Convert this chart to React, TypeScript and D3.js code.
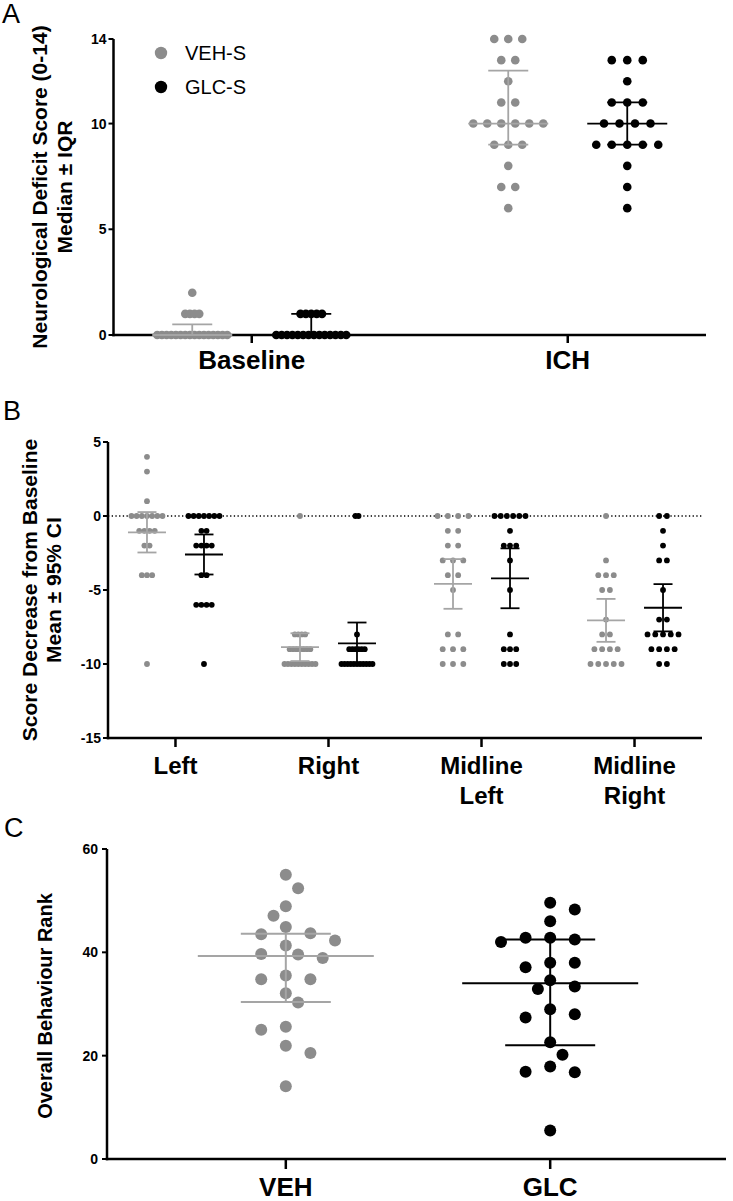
import React from "react";
import * as d3 from "d3";

// ---------------- DATA ----------------
// Panel A
const panelACategories = ["Baseline", "ICH"];
const seriesNames = ["VEH-S", "GLC-S"];
const vehBaseline = [2, 1, 1, 1, 1, 0, 0, 0, 0, 0, 0, 0, 0, 0, 0, 0, 0, 0, 0, 0, 0];
const glcBaseline = [1, 1, 1, 1, 1, 0, 0, 0, 0, 0, 0, 0, 0, 0, 0, 0, 0, 0, 0];
const vehICH = [14, 14, 14, 13, 13, 12, 11, 11, 10, 10, 10, 10, 10, 10, 9, 9, 9, 8, 7, 7, 6];
const glcICH = [13, 13, 13, 12, 11, 11, 11, 10, 10, 10, 10, 9, 9, 9, 9, 9, 8, 7, 6];
const panelATicks = [0, 5, 10, 14];

// Panel B
const panelBCategories = ["Left", "Right", "Midline\nLeft", "Midline\nRight"];
const vehLeft = [4, 3, 1, 0, 0, 0, 0, 0, 0, 0, -1, -1, -1, -1, -2, -2, -4, -4, -4, -10];
const glcLeft = [0, 0, 0, 0, 0, 0, 0, -1, -1, -2, -2, -2, -2, -4, -4, -6, -6, -6, -6, -10];
const vehRight = [0, -8, -8, -8, -8, -9, -9, -9, -9, -9, -9, -9, -10, -10, -10, -10, -10, -10, -10, -10, -10, -10];
const glcRight = [0, 0, -8, -9, -9, -9, -9, -9, -9, -10, -10, -10, -10, -10, -10, -10, -10, -10, -10, -10];
const vehMidLeft = [0, 0, 0, 0, -1, -1, -2, -2, -3, -3, -3, -4, -4, -5, -8, -8, -9, -9, -9, -10, -10, -10];
const glcMidLeft = [0, 0, 0, 0, 0, 0, -1, -2, -2, -2, -3, -5, -8, -9, -9, -9, -10, -10, -10];
const vehMidRight = [0, -3, -4, -4, -4, -5, -5, -7, -8, -8, -9, -9, -9, -9, -10, -10, -10, -10, -10];
const glcMidRight = [0, 0, -1, -2, -3, -3, -5, -7, -7, -8, -8, -8, -8, -8, -9, -9, -9, -9, -10, -10];
const panelBTicks = [5, 0, -5, -10, -15];

// Panel C
const panelCCategories = ["VEH", "GLC"];
const vehRank = [55.0, 52.4, 48.9, 47.1, 44.9, 43.5, 43.7, 42.3, 41.3, 39.6, 38.9, 39.7, 34.8, 34.8, 35.5, 32.1, 30.3, 25.6, 25.0, 21.9, 20.5, 14.1];
const glcRank = [49.6, 48.3, 46.0, 42.5, 42.8, 42.8, 42.0, 38.0, 38.0, 37.1, 34.6, 32.9, 33.4, 27.4, 28.0, 29.0, 22.6, 20.2, 17.9, 16.9, 16.8, 5.5];
const rankMedian = [39.3, 34.0];
const rankQ1 = [30.4, 22.0];
const rankQ3 = [43.6, 42.5];
const panelCTicks = [0, 20, 40, 60];

// ---------------- STYLE ----------------
const FONT = "'Liberation Sans', Arial, Helvetica, sans-serif";
const GRAY = "#8c8c8c";
const GRAY_LINE = "#a5a5a5";
const BLACK = "#000000";

// ---------------- HELPERS ----------------
function prismQuantile(vals: number[], p: number) {
  const s = [...vals].sort((a, b) => a - b);
  const n = s.length;
  let pos = p * (n + 1);
  if (pos < 1) pos = 1;
  if (pos > n) pos = n;
  const lo = Math.floor(pos);
  const frac = pos - lo;
  if (lo >= n) return s[n - 1];
  return s[lo - 1] + frac * (s[lo] - s[lo - 1]);
}

function tCrit(df: number) {
  const z = 1.959964;
  const z3 = z * z * z;
  const z5 = z3 * z * z;
  return z + (z3 + z) / (4 * df) + (5 * z5 + 16 * z3 + 3 * z) / (96 * df * df);
}

function meanCI(vals: number[]) {
  const m = d3.mean(vals) as number;
  const sd = d3.deviation(vals) as number;
  const h = (tCrit(vals.length - 1) * sd) / Math.sqrt(vals.length);
  return { center: m, lo: m - h, hi: m + h };
}

function medianIQR(vals: number[]) {
  return { center: prismQuantile(vals, 0.5), lo: prismQuantile(vals, 0.25), hi: prismQuantile(vals, 0.75) };
}

function rowLayout(values: number[], rowWidth: number, maxSpacing: number) {
  const counts = d3.rollup(values, (v) => v.length, (d) => d);
  const maxCount = d3.max(Array.from(counts.values())) as number;
  const spacing = maxCount > 1 ? Math.min(maxSpacing, rowWidth / (maxCount - 1)) : 0;
  const out: { v: number; dx: number }[] = [];
  for (const [val, n] of counts) {
    for (let i = 0; i < n; i++) out.push({ v: val, dx: (i - (n - 1) / 2) * spacing });
  }
  return out;
}

function swarm(values: number[], y: (v: number) => number, slot: number, minDist: number) {
  const order = values.map((v) => ({ v, y: y(v) })).sort((a, b) => a.y - b.y);
  const placed: { v: number; y: number; dx: number }[] = [];
  let flip = 1;
  for (const p of order) {
    for (let k = 0; k < 30; k++) {
      const cands = k === 0 ? [0] : [flip * k, -flip * k];
      let found: number | null = null;
      for (const c of cands) {
        const x = c * slot;
        if (placed.every((q) => Math.hypot(q.dx - x, q.y - p.y) >= minDist)) {
          found = x;
          break;
        }
      }
      if (found !== null) {
        placed.push({ ...p, dx: found });
        if (found !== 0) flip = -flip;
        break;
      }
    }
  }
  return placed;
}

type Stat = { center: number; lo: number; hi: number };

function Group(props: {
  cx: number;
  dots: { v: number; dx: number }[];
  r: number;
  color: string;
  lineColor: string;
  stat: Stat;
  y: (v: number) => number;
  centerHalf: number;
  capHalf: number;
  sw: number;
}) {
  const { cx, dots, r, color, lineColor, stat, y, centerHalf, capHalf, sw } = props;
  return (
    <g>
      {dots.map((d, i) => (
        <circle key={i} cx={cx + d.dx} cy={y(d.v)} r={r} fill={color} />
      ))}
      <g stroke={lineColor} strokeWidth={sw} fill="none">
        <line x1={cx} x2={cx} y1={y(stat.lo)} y2={y(stat.hi)} />
        <line x1={cx - capHalf} x2={cx + capHalf} y1={y(stat.lo)} y2={y(stat.lo)} />
        <line x1={cx - capHalf} x2={cx + capHalf} y1={y(stat.hi)} y2={y(stat.hi)} />
        <line x1={cx - centerHalf} x2={cx + centerHalf} y1={y(stat.center)} y2={y(stat.center)} />
      </g>
    </g>
  );
}

function YAxis(props: { x: number; y: d3.ScaleLinear<number, number>; ticks: number[]; labelGap: number }) {
  const { x, y, ticks, labelGap } = props;
  const [d0, d1] = y.domain();
  return (
    <g>
      <line x1={x} x2={x} y1={y(d0) + 1.25} y2={y(d1)} stroke={BLACK} strokeWidth={2.5} />
      {ticks.map((t) => (
        <g key={t}>
          <line x1={x - 5} x2={x} y1={y(t)} y2={y(t)} stroke={BLACK} strokeWidth={2} />
          <text x={x - labelGap} y={y(t)} dy="0.36em" textAnchor="end" fontFamily={FONT} fontWeight="bold" fontSize={14}>
            {t}
          </text>
        </g>
      ))}
    </g>
  );
}

function XAxis(props: {
  x0: number;
  x1: number;
  yPos: number;
  xs: d3.ScalePoint<string>;
  tickLen: number;
  labelY: number;
  fontSize: number;
  lineH: number;
}) {
  const { x0, x1, yPos, xs, tickLen, labelY, fontSize, lineH } = props;
  return (
    <g>
      <line x1={x0 - 1.25} x2={x1} y1={yPos} y2={yPos} stroke={BLACK} strokeWidth={2.5} />
      {xs.domain().map((c) => (
        <g key={c}>
          <line x1={xs(c)} x2={xs(c)} y1={yPos} y2={yPos + tickLen} stroke={BLACK} strokeWidth={2.5} />
          <text x={xs(c)} y={labelY} textAnchor="middle" fontFamily={FONT} fontWeight="bold" fontSize={fontSize}>
            {c.split("\n").map((ln, i) => (
              <tspan key={i} x={xs(c)} dy={i === 0 ? 0 : lineH}>
                {ln}
              </tspan>
            ))}
          </text>
        </g>
      ))}
    </g>
  );
}

function YTitle(props: { lines: string[]; xs: number[]; cy: number; size: number }) {
  return (
    <g>
      {props.lines.map((ln, i) => (
        <text
          key={i}
          transform={`translate(${props.xs[i]},${props.cy}) rotate(-90)`}
          textAnchor="middle"
          fontFamily={FONT}
          fontWeight="bold"
          fontSize={props.size}
        >
          {ln}
        </text>
      ))}
    </g>
  );
}

export default function App() {
  // ---- Panel A ----
  const yA = d3.scaleLinear().domain([0, 14]).range([335, 39]);
  const xA = d3.scalePoint<string>().domain(panelACategories).range([113.5, 706]).padding(0.4375);
  const offA = d3.scalePoint<string>().domain(seriesNames).range([-59.5, 59.5]);
  const groupsA = [
    { cat: "Baseline", s: "VEH-S", vals: vehBaseline },
    { cat: "Baseline", s: "GLC-S", vals: glcBaseline },
    { cat: "ICH", s: "VEH-S", vals: vehICH },
    { cat: "ICH", s: "GLC-S", vals: glcICH },
  ];

  // ---- Panel B ----
  const yB = d3.scaleLinear().domain([-15, 5]).range([738, 442]);
  const xB = d3.scalePoint<string>().domain(panelBCategories).range([108, 702]).padding(0.441);
  const offB = d3.scalePoint<string>().domain(seriesNames).range([-28.5, 28.5]);
  const groupsB = [
    { cat: panelBCategories[0], s: "VEH-S", vals: vehLeft },
    { cat: panelBCategories[0], s: "GLC-S", vals: glcLeft },
    { cat: panelBCategories[1], s: "VEH-S", vals: vehRight },
    { cat: panelBCategories[1], s: "GLC-S", vals: glcRight },
    { cat: panelBCategories[2], s: "VEH-S", vals: vehMidLeft },
    { cat: panelBCategories[2], s: "GLC-S", vals: glcMidLeft },
    { cat: panelBCategories[3], s: "VEH-S", vals: vehMidRight },
    { cat: panelBCategories[3], s: "GLC-S", vals: glcMidRight },
  ];

  // ---- Panel C ----
  const yC = d3.scaleLinear().domain([0, 60]).range([1159, 849]);
  const xC = d3.scalePoint<string>().domain(panelCCategories).range([110, 726]).padding(0.665);
  const groupsC = [
    { cat: "VEH", vals: vehRank, i: 0 },
    { cat: "GLC", vals: glcRank, i: 1 },
  ];

  const colorOf = (s: string) => (s === "VEH-S" ? GRAY : BLACK);
  const lineOf = (s: string) => (s === "VEH-S" ? GRAY_LINE : BLACK);

  return (
    <svg width={733} height={1201} style={{ position: "absolute", left: 0, top: 0, background: "#fff" }}>
      <rect x={0} y={0} width={733} height={1201} fill="#fff" />

      {/* ================= Panel A ================= */}
      <text x={2} y={23} fontFamily={FONT} fontSize={27} fontWeight={300}>A</text>
      <YTitle lines={["Neurological Deficit Score (0-14)", "Median ± IQR"]} xs={[47, 72]} cy={187} size={21} />
      <YAxis x={113.5} y={yA} ticks={panelATicks} labelGap={7} />
      <XAxis x0={113.5} x1={706} yPos={335} xs={xA} tickLen={8} labelY={369} fontSize={26} lineH={30} />
      {groupsA.map((g, i) => (
        <Group
          key={i}
          cx={(xA(g.cat) as number) + (offA(g.s) as number)}
          dots={rowLayout(g.vals, 70, 15.5)}
          r={4.3}
          color={colorOf(g.s)}
          lineColor={lineOf(g.s)}
          stat={medianIQR(g.vals)}
          y={yA}
          centerHalf={40}
          capHalf={20}
          sw={1.8}
        />
      ))}
      {/* legend */}
      {seriesNames.map((s, i) => (
        <g key={s}>
          <circle cx={161} cy={53 + i * 34} r={6.2} fill={colorOf(s)} />
          <text x={185} y={53 + i * 34} dy="0.36em" fontFamily={FONT} fontSize={20}>
            {s}
          </text>
        </g>
      ))}

      {/* ================= Panel B ================= */}
      <text x={3} y={420} fontFamily={FONT} fontSize={27} fontWeight={300}>B</text>
      <YTitle lines={["Score Decrease from Baseline", "Mean ± 95% CI"]} xs={[37, 61]} cy={590} size={21} />
      <line x1={108} x2={702} y1={yB(0)} y2={yB(0)} stroke={BLACK} strokeWidth={1.5} strokeDasharray="1.3 2.4" />
      <YAxis x={108} y={yB} ticks={panelBTicks} labelGap={7} />
      <XAxis x0={108} x1={702} yPos={738} xs={xB} tickLen={9} labelY={774} fontSize={24} lineH={30} />
      {groupsB.map((g, i) => (
        <Group
          key={i}
          cx={(xB(g.cat) as number) + (offB(g.s) as number)}
          dots={rowLayout(g.vals, 31, 10.3)}
          r={2.9}
          color={colorOf(g.s)}
          lineColor={lineOf(g.s)}
          stat={meanCI(g.vals)}
          y={yB}
          centerHalf={19}
          capHalf={9.5}
          sw={1.8}
        />
      ))}

      {/* ================= Panel C ================= */}
      <text x={4} y={837} fontFamily={FONT} fontSize={27} fontWeight={300}>C</text>
      <YTitle lines={["Overall Behaviour Rank"]} xs={[52]} cy={1006} size={20} />
      <YAxis x={107} y={yC} ticks={panelCTicks} labelGap={9} />
      <XAxis x0={107} x1={726} yPos={1159} xs={xC} tickLen={10} labelY={1196} fontSize={26} lineH={30} />
      {groupsC.map((g) => (
        <Group
          key={g.cat}
          cx={xC(g.cat) as number}
          dots={swarm(g.vals, yC, 12.3, 15).map((p) => ({ v: p.v, dx: p.dx }))}
          r={6}
          color={g.i === 0 ? GRAY : BLACK}
          lineColor={g.i === 0 ? GRAY_LINE : BLACK}
          stat={{ center: rankMedian[g.i], lo: rankQ1[g.i], hi: rankQ3[g.i] }}
          y={yC}
          centerHalf={88}
          capHalf={45}
          sw={2}
        />
      ))}
    </svg>
  );
}
